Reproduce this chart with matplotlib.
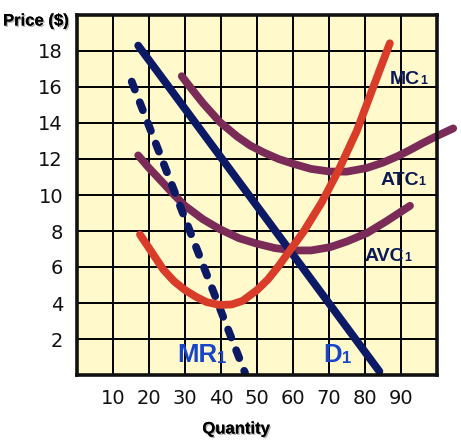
import matplotlib
matplotlib.use("Agg")
import matplotlib.pyplot as plt
import matplotlib.patheffects as pe

# ---- data ----
x_ticks = [10, 20, 30, 40, 50, 60, 70, 80, 90]
y_ticks = [2, 4, 6, 8, 10, 12, 14, 16, 18]

d_q = [17.0, 84.0]
d_p = [18.3, 0.2]

mr_q = [15.2, 46.7]
mr_p = [16.3, 0.1]

mc_q = [17.5, 21.0, 24.0, 27.0, 30.0, 33.0, 36.0, 39.7, 43.0, 46.0, 49.9, 53.0, 56.0,
        59.2, 62.9, 66.0, 68.0, 72.6, 77.7, 82.3, 86.9]
mc_p = [7.8, 6.75, 5.85, 5.2, 4.72, 4.35, 4.05, 3.89, 3.92, 4.12, 4.7, 5.3, 6.05,
        6.94, 7.95, 8.95, 9.6, 11.35, 13.55, 16.0, 18.43]

atc_q = [29.1, 32.0, 35.0, 39.7, 44.5, 48.1, 52.0, 56.0, 60.1, 65.0, 70.3, 75.0,
         80.5, 85.0, 89.0, 92.5, 96.0, 100.0, 104.5]
atc_p = [16.6, 15.85, 15.1, 14.05, 13.25, 12.75, 12.35, 12.0, 11.73, 11.45, 11.3, 11.3,
         11.5, 11.8, 12.15, 12.5, 12.88, 13.28, 13.7]

avc_q = [17.0, 20.0, 24.0, 27.0, 30.0, 35.0, 39.7, 45.0, 49.9, 55.0, 60.0, 65.0,
         70.3, 75.0, 80.5, 86.0, 92.5]
avc_p = [12.2, 11.5, 10.65, 10.0, 9.4, 8.65, 8.1, 7.6, 7.3, 7.05, 6.92, 6.92,
         7.1, 7.42, 7.88, 8.55, 9.4]

labels = [("MC", 86.9, 16.4, "#0b1a55", 14), ("ATC", 84.2, 10.8, "#0b1a55", 14),
          ("AVC", 80.0, 6.6, "#0b1a55", 14), ("MR", 27.8, 1.1, "#1844c8", 18.5),
          ("D", 68.3, 1.1, "#1844c8", 18.5)]

# ---- figure ----
plt.rcParams['font.family'] = ['Liberation Sans', 'DejaVu Sans']
fig = plt.figure(figsize=(4.61, 4.44), dpi=100)
ax = fig.add_axes([77/461, 1-375/444, 360/461, 360/444])
ax.set_facecolor("#fff9cc")
ax.set_xlim(0, 100)
ax.set_ylim(0, 20)
ax.set_xticks(x_ticks)
ax.set_xticklabels([str(v) for v in x_ticks])
ax.set_yticks(y_ticks)
ax.set_yticklabels([str(v) for v in y_ticks])
ax.tick_params(length=0, labelsize=14, colors="#111111")
for lab in ax.get_xticklabels() + ax.get_yticklabels():
    lab.set_fontfamily(['DejaVu Sans'])
ax.tick_params(axis='x', pad=10)
ax.tick_params(axis='y', pad=10)
for v in range(10, 100, 10):
    ax.axvline(v, color="black", lw=1.4, zorder=1)
for v in range(2, 20, 2):
    ax.axhline(v, color="black", lw=1.4, zorder=1)
for s in ax.spines.values():
    s.set_linewidth(2.6)
    s.set_color("#111111")
    s.set_zorder(5)

lw = 5.6
ax.plot(atc_q, atc_p, color="#7a2b58", lw=lw, solid_capstyle="round", solid_joinstyle="round", zorder=3, clip_on=False)
ax.plot(avc_q, avc_p, color="#7a2b58", lw=lw, solid_capstyle="round", solid_joinstyle="round", zorder=3)
ax.plot(d_q, d_p, color="#0c1a66", lw=lw, solid_capstyle="round", zorder=3)
ax.plot(mr_q, mr_p, color="#0c1a66", lw=lw, dash_capstyle="round", dashes=(1.1, 1.75), zorder=3)
ax.plot(mc_q, mc_p, color="#d93c29", lw=lw, solid_capstyle="round", solid_joinstyle="round", zorder=4)

for txt, xq, yp, col, fs in labels:
    t = ax.text(xq, yp, txt, color=col, fontsize=fs, fontweight="bold", ha="left", va="center", zorder=6)
    ax.annotate("1", xy=(1, 0.05), xycoords=t, ha="left", va="bottom", color=col,
                fontsize=fs * 0.65, fontweight="bold", zorder=6)

shadow = [pe.withSimplePatchShadow(offset=(1, -1), shadow_rgbFace="gray", alpha=0.6), pe.Normal()]
fig.text(3/461, 1-21/444, "Price ($)", fontsize=12, fontweight="bold", ha="left", va="center",
         path_effects=shadow)
fig.text(236/461, 1-429/444, "Quantity", fontsize=12, fontweight="bold", ha="center", va="center",
         path_effects=shadow)

fig.savefig("out.png", dpi=100)
